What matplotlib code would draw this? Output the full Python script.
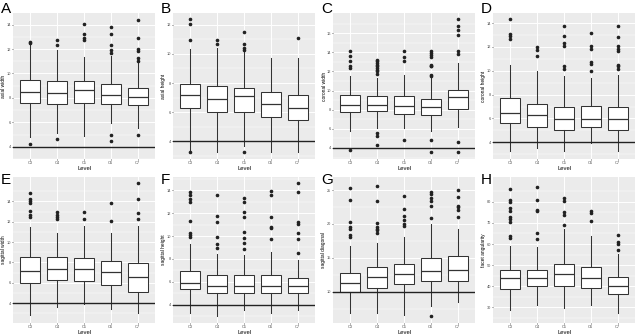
import numpy as np
import matplotlib.pyplot as plt

plt.rcParams["font.family"] = ["Liberation Sans", "DejaVu Sans"]

levels = ["C3", "C4", "C5", "C6", "C7"]

# per level: (lower whisker, q1, median, q3, upper whisker)
axial_width_box = [(4.78, 7.58, 8.49, 9.50, 12.3), (5.09, 7.50, 8.40, 9.40, 11.92),
                   (4.91, 7.60, 8.64, 9.37, 11.32), (5.95, 7.50, 8.20, 9.10, 11.4),
                   (5.56, 7.45, 8.10, 8.80, 10.88)]
axial_width_out = [[12.6, 12.5, 4.26], [12.78, 12.31, 4.65], [14.08, 13.22, 12.88, 12.78],
                   [13.79, 13.22, 12.31, 11.92, 11.66, 4.99, 4.44],
                   [14.39, 12.91, 12.0, 11.84, 11.27, 11.01, 4.96]]

axial_height_box = [(3.43, 6.29, 7.15, 7.95, 10.33), (3.31, 5.99, 6.90, 7.82, 10.4),
                    (3.66, 5.99, 7.09, 7.66, 10.17), (3.31, 5.71, 6.58, 7.38, 9.71),
                    (3.31, 5.44, 6.29, 7.15, 9.71)]
axial_height_out = [[12.39, 12.07, 10.97, 3.25], [10.93, 10.7], [11.47, 10.7, 10.4, 10.29, 3.25],
                    [], [11.09]]

coronal_width_box = [(5.74, 7.76, 8.52, 9.50, 11.48), (6.09, 7.83, 8.52, 9.39, 11.3),
                     (6.09, 7.58, 8.35, 9.39, 11.65), (5.74, 7.41, 8.28, 9.11, 11.3),
                     (6.19, 8.07, 9.32, 10.09, 12.87)]
coronal_width_out = [[14.09, 13.63, 13.04, 12.59, 12.35, 3.83],
                     [13.2, 13.04, 12.87, 12.7, 12.52, 12.35, 12.17, 12.0, 11.76, 5.57, 5.22, 4.28],
                     [14.09, 13.5, 13.04, 4.87],
                     [14.09, 13.91, 13.74, 13.5, 12.7, 12.59, 12.52, 11.65, 11.55, 4.87, 3.55],
                     [17.46, 16.77, 16.35, 15.83, 14.09, 13.84, 4.59, 3.55]]

coronal_height_box = [(3.25, 5.62, 6.46, 7.72, 10.51), (3.53, 5.26, 6.26, 7.21, 9.95),
                      (3.25, 5.06, 5.98, 6.93, 9.59), (3.94, 5.28, 5.98, 7.02, 9.39),
                      (3.25, 5.06, 5.98, 6.96, 9.67)]
coronal_height_out = [[14.36, 13.08, 12.88, 12.69], [11.96, 11.71, 11.21],
                      [13.8, 12.88, 12.32, 12.04, 10.37, 10.15],
                      [13.16, 12.04, 11.85, 10.7, 10.56, 10.0],
                      [13.8, 12.83, 12.04, 11.82, 11.63, 10.5, 10.37, 10.17]]

sagittal_width_box = [(2.86, 6.01, 7.18, 8.55, 11.53), (3.61, 6.27, 7.34, 8.55, 10.88),
                      (3.94, 6.18, 7.34, 8.45, 11.63), (3.42, 5.79, 7.02, 8.16, 10.88),
                      (3.03, 5.14, 6.60, 7.90, 11.63)]
sagittal_width_out = [[14.78, 14.23, 14.06, 13.8, 13.09, 12.67, 12.5],
                      [12.93, 12.67, 12.44, 12.28], [12.93, 12.28], [13.8, 12.12],
                      [15.85, 14.23, 12.86, 12.28]]

sagittal_height_box = [(3.28, 5.35, 5.87, 6.97, 9.27), (2.99, 5.01, 5.64, 6.59, 8.47),
                       (3.51, 5.01, 5.64, 6.59, 8.32), (3.28, 5.01, 5.64, 6.59, 8.61),
                       (3.51, 5.07, 5.64, 6.31, 7.95)]
sagittal_height_out = [[13.88, 13.57, 13.22, 12.99, 11.35, 10.25, 10.05, 9.91],
                       [13.57, 11.78, 11.26, 9.91, 9.33, 8.99],
                       [13.28, 12.93, 12.07, 11.64, 10.34, 9.82, 9.39, 8.9],
                       [13.94, 13.57, 11.64, 10.77, 10.69, 9.76],
                       [14.61, 13.88, 11.2, 11.06, 10.25, 9.76, 8.52]]

sagittal_diag_box = [(6.82, 10.0, 11.32, 12.69, 16.74), (6.82, 10.59, 12.2, 13.57, 17.18),
                     (6.58, 11.07, 12.59, 14.15, 18.06), (7.8, 11.56, 13.03, 15.03, 20.01),
                     (8.53, 11.61, 13.18, 15.23, 19.28)]
sagittal_diag_out = [[25.29, 23.58, 20.26, 19.62, 19.28, 18.3, 18.06],
                     [25.63, 23.43, 20.16, 19.53, 19.28, 19.04, 18.65],
                     [24.07, 22.21, 21.24, 20.6, 20.01, 19.77],
                     [24.66, 24.41, 23.83, 23.43, 22.7, 20.89, 6.43],
                     [25.0, 24.02, 22.7, 22.46, 22.12, 20.99]]

facet_ang_box = [(28.9, 38.75, 43.75, 47.66, 59.06), (31.25, 40.16, 43.75, 47.66, 58.6),
                 (29.7, 40.16, 45.78, 50.78, 67.2), (31.25, 39.1, 44.06, 49.2, 63.6),
                 (27.3, 36.25, 40.3, 44.2, 55.5)]
facet_ang_out = [[85.9, 80.8, 79.7, 77.0, 75.8, 73.0, 71.9, 70.6, 63.6, 62.8],
                 [87.2, 80.9, 76.25, 75.5, 65.3, 62.2],
                 [82.0, 80.5, 75.0, 73.9, 69.2],
                 [75.5, 74.5, 71.1],
                 [64.06, 60.9, 60.2, 57.3]]

panels = [
    ("A", "axial width", axial_width_box, axial_width_out, [4, 6, 8, 10, 12, 14], (3.55, 14.95), 4),
    ("B", "axial height", axial_height_box, axial_height_out, [4, 6, 8, 10, 12], (2.8, 12.8), 4),
    ("C", "coronal width", coronal_width_box, coronal_width_out, [4, 6, 8, 10, 12, 14, 16], (2.85, 18.1), 4),
    ("D", "coronal height", coronal_height_box, coronal_height_out, [4, 6, 8, 10, 12, 14], (2.6, 14.85), 4),
    ("E", "sagittal width", sagittal_width_box, sagittal_width_out, [4, 6, 8, 10, 12, 14], (2.05, 16.4), 4),
    ("F", "sagittal height", sagittal_height_box, sagittal_height_out, [4, 6, 8, 10, 12, 14], (2.41, 15.15), 4),
    ("G", "sagittal diagonal", sagittal_diag_box, sagittal_diag_out, [10, 15, 20, 25], (5.36, 26.95), 10),
    ("H", "facet angularity", facet_ang_box, facet_ang_out, [30, 40, 50, 60, 70, 80], (22.66, 91.7), None),
]

fig = plt.figure(figsize=(6.4, 3.35), dpi=100)
lefts = [13, 173, 333, 493]
rows = [(13, 159), (177, 323)]

for i, (letter, ylab, boxes, outs, yticks, ylim, href) in enumerate(panels):
    r, c = divmod(i, 4)
    top, bot = rows[r]
    w_px, h_px = 142, bot - top
    ax = fig.add_axes([lefts[c] / 640, 1 - bot / 335, w_px / 640, h_px / 335])
    ax.set_facecolor("#EBEBEB")
    for s in ax.spines.values():
        s.set_visible(False)

    stats = []
    for lv, (lo, q1, med, q3, hi), fl in zip(levels, boxes, outs):
        stats.append(dict(label=lv, whislo=lo, q1=q1, med=med, q3=q3, whishi=hi, fliers=fl))
    ax.bxp(stats, positions=range(1, 6), widths=0.75, patch_artist=True, showcaps=False,
           boxprops=dict(facecolor="white", edgecolor="#333333", linewidth=0.75),
           whiskerprops=dict(color="#333333", linewidth=0.75),
           medianprops=dict(color="#333333", linewidth=0.9),
           flierprops=dict(marker="o", markersize=1.6, markerfacecolor="#222222",
                           markeredgecolor="#222222", linestyle="none"),
           zorder=3)
    if href is not None:
        ax.axhline(href, color="#222222", linewidth=1.0, zorder=4)

    ax.set_xlim(0.35, 5.65)
    ax.set_ylim(*ylim)
    ax.set_yticks(yticks)
    step = yticks[1] - yticks[0]
    ax.set_yticks(np.arange(yticks[0] - step / 2, ylim[1], step), minor=True)
    ax.grid(True, which="major", color="white", linewidth=0.7)
    ax.grid(True, which="minor", axis="y", color="white", linewidth=0.35)
    ax.set_axisbelow(True)
    ax.tick_params(which="major", length=1.0, width=0.5, color="#333333",
                   labelsize=2.8, labelcolor="#4D4D4D", pad=0.5)
    ax.tick_params(which="minor", length=0)
    ax.set_xticks(range(1, 6))
    ax.set_xticklabels(levels)

    ax.set_xlabel("Level", fontsize=4.2, va="center")
    ax.xaxis.set_label_coords(0.5, -9 / h_px)
    ax.set_ylabel(ylab, fontsize=3.5, va="center")
    ax.yaxis.set_label_coords(-9 / w_px, 0.5)

    letter_top = 2 if r == 0 else 173
    letter_x = 1 if c == 0 else lefts[c] - 12
    fig.text(letter_x / 640, 1 - letter_top / 335, letter, fontsize=11, va="top", ha="left")

fig.savefig("out.png", dpi=100)
